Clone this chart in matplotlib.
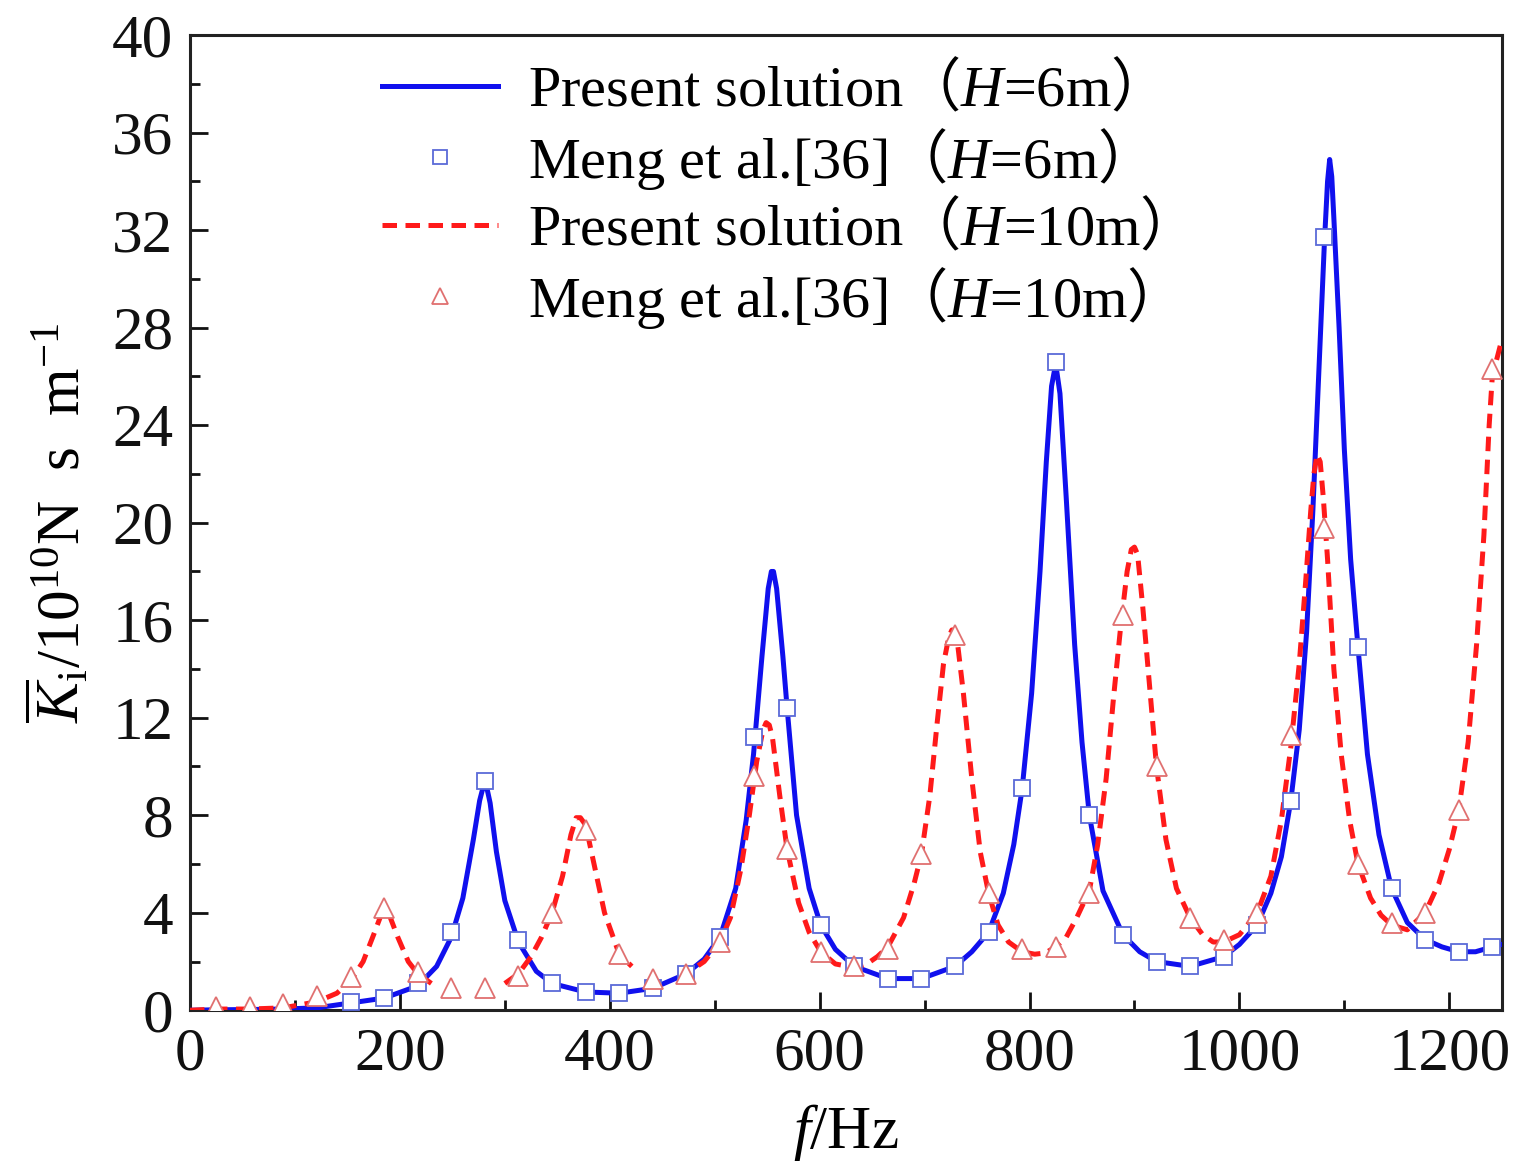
"""Dynamic stiffness K_i vs frequency: present solution vs Meng et al. [36]."""
import numpy as np
import matplotlib

matplotlib.use("Agg")
import matplotlib.pyplot as plt
from matplotlib.ticker import MultipleLocator

plt.rcParams["font.family"] = ["Liberation Serif", "Noto Sans CJK SC"]
plt.rcParams["mathtext.fontset"] = "custom"
plt.rcParams["mathtext.rm"] = "Liberation Serif"
plt.rcParams["mathtext.it"] = "Liberation Serif:italic"
plt.rcParams["mathtext.tt"] = "Noto Sans CJK SC"

# ---- present solution, H = 6 m (solid blue) ----
f_h6 = [0, 25, 57, 89, 121, 153, 185, 217, 235, 249, 260, 270, 276, 279, 281, 283, 286,
        292, 300, 313, 330, 345, 377, 409, 441, 473, 490, 505, 520, 530, 537, 545, 551,
        554, 556, 559, 565, 569, 578, 590, 601, 615, 633, 665, 697, 729, 745, 761, 775,
        785, 793, 802, 810, 816, 821, 824, 826, 829, 835, 843, 850, 857, 870, 889, 905,
        921, 953, 985, 1000, 1017, 1030, 1040, 1049, 1057, 1064, 1070, 1076, 1081,
        1084, 1086, 1088, 1090, 1095, 1100, 1106, 1113, 1122, 1133, 1145, 1160, 1177,
        1193, 1209, 1225, 1241, 1250]
k_h6 = [0.0, 0.02, 0.03, 0.05, 0.1, 0.3, 0.5, 1.0, 1.8, 3.0, 4.6, 7.0, 8.6, 9.1, 9.3,
        9.1, 8.5, 6.5, 4.5, 2.8, 1.6, 1.1, 0.75, 0.7, 0.9, 1.5, 2.1, 3.0, 5.0, 7.8,
        10.5, 14.5, 17.3, 18.0, 18.0, 17.3, 14.5, 12.4, 8.0, 5.0, 3.5, 2.5, 1.8, 1.3,
        1.3, 1.8, 2.4, 3.2, 4.8, 6.8, 9.1, 13.0, 18.0, 22.5, 25.6, 26.3, 26.2, 25.3,
        21.0, 15.0, 11.0, 8.0, 4.9, 3.1, 2.4, 2.0, 1.8, 2.2, 2.7, 3.5, 4.8, 6.3, 8.6,
        11.5, 15.5, 20.5, 26.5, 31.5, 34.0, 34.9, 34.2, 32.5, 28.0, 23.0, 18.5, 14.9,
        10.5, 7.2, 5.0, 3.6, 2.9, 2.6, 2.4, 2.4, 2.6, 2.7]

# ---- present solution, H = 10 m (dashed red; nan = no line drawn) ----
f_h10 = [0, 25, 57, 89, 121, 140, 153, 165, 175, 182, 186, 190, 198, 208, 217, 230,
         265, 300, 313, 325, 335, 345, 355, 363, 368, 372, 377, 385, 395, 409, 421, 445,
         465, 473, 490, 505, 515, 525, 533, 540, 546, 549, 552, 555, 562, 569, 580, 590,
         601, 615, 633, 645, 655, 665, 680, 690, 697, 705, 712, 718, 723, 726, 728, 731,
         737, 745, 753, 761, 770, 780, 793, 805, 815, 825, 835, 845, 857, 865, 873,
         880, 887, 893, 897, 900, 903, 908, 915, 921, 930, 940, 953, 965, 975, 985, 1000,
         1017, 1030, 1040, 1049, 1057, 1063, 1068, 1071, 1074, 1077, 1080, 1084, 1090,
         1097, 1105, 1113, 1125, 1135, 1145, 1160, 1177, 1190, 1200, 1209, 1218,
         1226, 1233, 1238, 1241, 1250]
k_h10 = [0.0, 0.05, 0.05, 0.1, 0.35, 0.7, 1.2, 2.0, 3.1, 3.9, 4.1, 3.9, 3.0, 2.0, 1.5,
         1.1, np.nan, 1.1, 1.5, 2.2, 3.0, 4.0, 5.5, 7.2, 7.9, 7.9, 7.6, 6.0, 4.0, 2.3,
         1.8, np.nan, 1.4, 1.5, 2.0, 2.8, 3.8, 5.8, 8.0, 10.2, 11.5, 11.8, 11.7, 11.2,
         8.8, 6.6, 4.4, 3.2, 2.4, 1.9, 1.75, 1.9, 2.2, 2.6, 3.8, 5.2, 6.4, 8.8, 11.8,
         14.2, 15.3, 15.6, 15.6, 15.2, 13.0, 9.5, 6.5, 4.8, 3.5, 2.8, 2.4, 2.3, 2.35,
         2.6, 3.0, 3.8, 4.9, 6.8, 9.5, 12.8, 15.8, 18.0, 18.9, 19.0, 18.7, 16.5, 13.0,
         10.0, 7.0, 5.0, 3.8, 3.1, 2.8, 2.8, 3.1, 4.0, 5.5, 7.8, 10.8, 14.2, 17.5,
         20.5, 22.0, 22.8, 22.5, 21.0, 18.5, 14.0, 10.5, 7.8, 6.0, 4.6, 3.9, 3.5, 3.3,
         4.0, 5.2, 6.6, 8.2, 11.0, 15.0, 19.5, 24.0, 26.0, 27.5]

# ---- Meng et al. [36], H = 6 m (open squares) ----
f_meng6 = [153, 185, 217, 249, 281, 313, 345, 377, 409, 441, 473, 505, 537, 569, 601,
           633, 665, 697, 729, 761, 793, 825, 857, 889, 921, 953, 985, 1017, 1049,
           1081, 1113, 1145, 1177, 1209, 1241]
k_meng6 = [0.35, 0.5, 1.1, 3.2, 9.4, 2.9, 1.1, 0.75, 0.7, 0.9, 1.5, 3.0, 11.2, 12.4,
           3.5, 1.8, 1.3, 1.3, 1.8, 3.2, 9.1, 26.6, 8.0, 3.1, 2.0, 1.8, 2.2, 3.5, 8.6,
           31.7, 14.9, 5.0, 2.9, 2.4, 2.6]

# ---- Meng et al. [36], H = 10 m (open triangles) ----
f_meng10 = [25, 57, 89, 121, 153, 185, 217, 249, 281, 313, 345, 377, 409, 441, 473,
            505, 537, 569, 601, 633, 665, 697, 729, 761, 793, 825, 857, 889, 921, 953,
            985, 1017, 1049, 1081, 1113, 1145, 1177, 1209, 1241]
k_meng10 = [0.15, 0.15, 0.25, 0.6, 1.35, 4.2, 1.55, 0.9, 0.9, 1.4, 4.0, 7.4, 2.3, 1.3,
            1.5, 2.8, 9.6, 6.6, 2.4, 1.8, 2.5, 6.4, 15.4, 4.8, 2.5, 2.6, 4.8, 16.2,
            10.0, 3.8, 2.9, 4.0, 11.3, 19.8, 6.0, 3.6, 4.0, 8.2, 26.3]

BLUE = "#1010ee"
RED = "#ff1a1a"


def main():
    fig = plt.figure(figsize=(15.2, 11.72), dpi=100, facecolor="white")
    ax = fig.add_axes([0.125, 0.138, 0.863, 0.832])

    ax.plot(f_h6, k_h6, color=BLUE, lw=3.6, zorder=3,
            label=r"Present solution$\mathtt{（}H$=6m$\mathtt{）}$")
    ax.plot(f_meng6, k_meng6, ls="none", marker="s", ms=12, mfc="white",
            mec="#5a6ad8", mew=1.3, zorder=5,
            label=r"Meng et al.[36]$\mathtt{（}H$=6m$\mathtt{）}$")
    ax.plot(f_h10, k_h10, color=RED, lw=3.6, ls=(0, (2.9, 1.7)), zorder=4,
            label=r"Present solution$\mathtt{（}H$=10m$\mathtt{）}$")
    ax.plot(f_meng10, k_meng10, ls="none", marker="^", ms=14, mfc="white",
            mec="#e07070", mew=1.3, zorder=6,
            label=r"Meng et al.[36]$\mathtt{（}H$=10m$\mathtt{）}$")

    ax.set_xlim(0, 1250)
    ax.set_ylim(0, 40)
    ax.xaxis.set_major_locator(MultipleLocator(200))
    ax.xaxis.set_minor_locator(MultipleLocator(100))
    ax.yaxis.set_major_locator(MultipleLocator(4))
    ax.yaxis.set_minor_locator(MultipleLocator(2))
    ax.tick_params(which="both", direction="in", top=False, right=False,
                   width=2.0, labelsize=44, colors="#111111")
    ax.tick_params(which="major", length=13, pad=12)
    ax.tick_params(which="minor", length=7)
    for s in ax.spines.values():
        s.set_linewidth(2.2)
        s.set_color("#222222")

    ax.set_xlabel(r"$f$/Hz", fontsize=44, labelpad=14)
    ax.set_ylabel(r"$\overline{K}_{\mathrm{i}}$/10$^{10}$N  s  m$^{-1}$",
                  fontsize=44, labelpad=14)

    ax.legend(loc="upper left", bbox_to_anchor=(0.124, 1.005), frameon=False,
              fontsize=42, handlelength=2.0, handletextpad=0.5,
              labelspacing=0.12, borderpad=0, markerscale=0.8, numpoints=1)

    fig.savefig("out.png", dpi=100, facecolor="white")
    plt.close(fig)


if __name__ == "__main__":
    main()
